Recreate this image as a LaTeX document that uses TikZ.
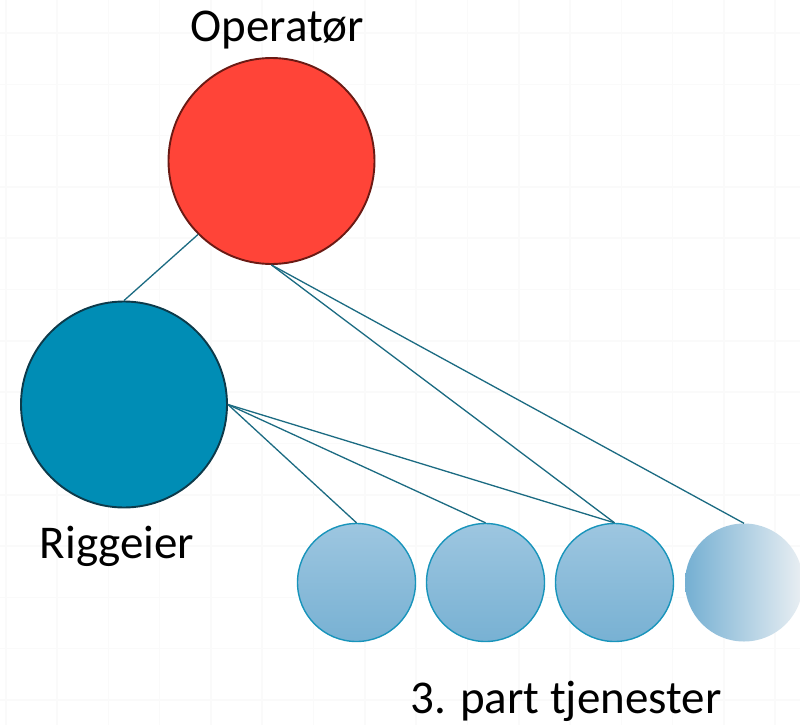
\documentclass[tikz,border=0pt]{standalone}
\usepackage{fontspec}
\setmainfont{Carlito}
\definecolor{opfill}{HTML}{FF4438}
\definecolor{opdraw}{HTML}{6B1A14}
\definecolor{rgfill}{HTML}{008DB5}
\definecolor{rgdraw}{HTML}{0D3A4A}
\definecolor{link}{HTML}{1B6B82}
\definecolor{smtop}{HTML}{9DC6E0}
\definecolor{smbot}{HTML}{78B1D3}
\definecolor{smdraw}{HTML}{1894BB}
\definecolor{fadeL}{HTML}{74AFD2}
\definecolor{fadeR}{HTML}{EAEFF3}
\definecolor{gridc}{HTML}{FAFAFA}
\begin{document}
\begin{tikzpicture}[x=1pt,y=-1pt,
  big/.style={circle,inner sep=0pt,minimum size=206pt,line width=1.9pt},
  small/.style={circle,inner sep=0pt,minimum size=118pt,top color=smtop,bottom color=smbot,draw=smdraw,line width=1.4pt},
  fadecirc/.style={circle,inner sep=0pt,minimum size=118pt,left color=fadeL,right color=fadeR},
  lbl/.style={font=\fontsize{47}{52}\selectfont,anchor=base,inner sep=0pt},
  conn/.style={draw=link,line width=1.3pt}]
\useasboundingbox (0,0) rectangle (800,725);
\fill[white] (0,0) rectangle (800,725);
\foreach \i in {0,...,15} {
  \draw[gridc,line width=1.6pt] (5.7+51.3*\i,0) -- (5.7+51.3*\i,725);
  \draw[gridc,line width=1.6pt] (0,-18.3+51.3*\i) -- (800,-18.3+51.3*\i);
}
\node[big,fill=opfill,draw=opdraw] (op) at (271.5,161) {};
\node[big,fill=rgfill,draw=rgdraw] (rg) at (124,404.5) {};
\node[small] (s1) at (356.5,582.5) {};
\node[small] (s2) at (485.5,582.5) {};
\node[small] (s3) at (614.5,582.5) {};
\node[fadecirc] (s4) at (744,582.5) {};
\node[lbl] (tOp) at (277,42) {Operatør};
\node[lbl] (tRg) at (117,558) {Riggeier};
\node[lbl] (tS) at (566,713) {3. part tjenester};
\draw[conn] (op.south west) -- (rg.north);
\draw[conn] (op.south) -- (s3.north);
\draw[conn] (op.south) -- (s4.north);
\draw[conn] (rg.east) -- (s1.north);
\draw[conn] (rg.east) -- (s2.north);
\draw[conn] (rg.east) -- (s3.north);
\end{tikzpicture}
\end{document}
